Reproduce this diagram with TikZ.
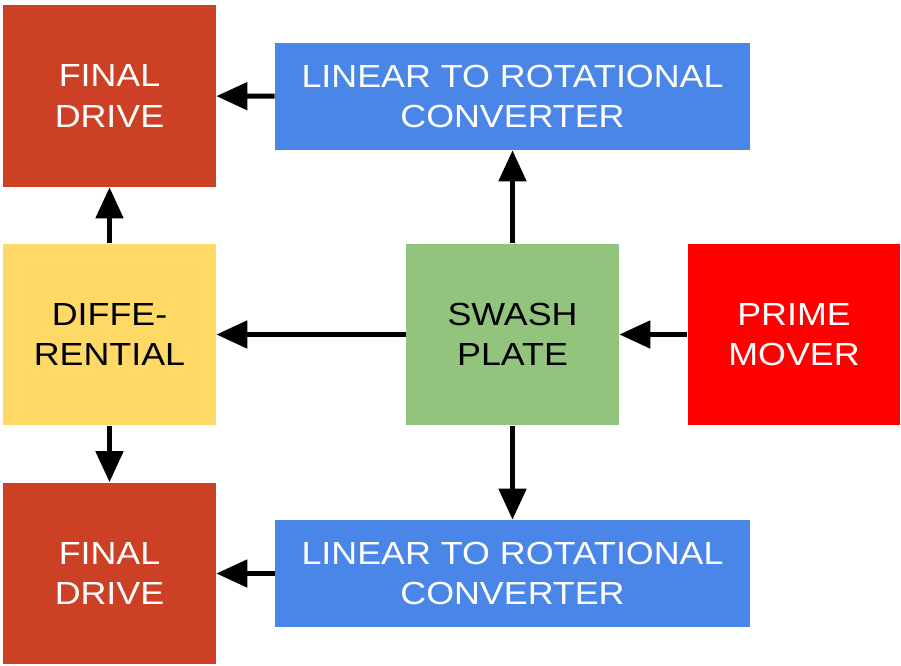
\documentclass[tikz,border=0pt]{standalone}
\usepackage{fontspec}
\setmainfont[FakeStretch=1.12]{Liberation Sans}
\usepackage{xcolor}
\usepackage{tikz}
\usetikzlibrary{arrows.meta}

\definecolor{drivered}{HTML}{CC4125}
\definecolor{convblue}{HTML}{4A86E8}
\definecolor{diffyellow}{HTML}{FFD966}
\definecolor{swashgreen}{HTML}{93C47D}
\definecolor{primered}{HTML}{FF0000}

\begin{document}
\begin{tikzpicture}%
                    [x={(0.02cm, 0cm)},
                    y={(0cm, -0.02cm)},
                    block/.style={inner sep=0pt, align=center,
                                  font=\fontsize{18.2}{22.8}\selectfont},
                    square/.style={block, minimum width=4.26cm, minimum height=3.64cm},
                    wide/.style={block, minimum width=9.5cm, minimum height=2.14cm,
                                 fill=convblue, text=white},
                    flow/.style={line width=0.1cm,
                                 -{Triangle[width=0.54cm, length=0.62cm]}}]

                %% Fixing the page
                \useasboundingbox (0,0) rectangle (901,665);
                %%
                %% Drawing the blocks
                %%
                \node[square, fill=drivered, text=white] (drivetop) at (109.5, 96) {FINAL\\DRIVE};
                \node[wide] (convtop) at (512.5, 96.5) {LINEAR TO ROTATIONAL\\CONVERTER};
                \node[square, fill=diffyellow] (diff) at (109.5, 334.5) {DIFFE-\\RENTIAL};
                \node[square, fill=swashgreen] (swash) at (512.5, 334.5) {SWASH\\PLATE};
                \node[square, fill=primered, text=white] (prime) at (794, 334.5) {PRIME\\MOVER};
                \node[square, fill=drivered, text=white] (drivebot) at (109.5, 573.5) {FINAL\\DRIVE};
                \node[wide] (convbot) at (512.5, 573.5) {LINEAR TO ROTATIONAL\\CONVERTER};
                %%
                %% Drawing the arrows
                %%
                \draw[flow] (prime) -- (swash);
                \draw[flow] (swash) -- (diff);
                \draw[flow] (swash) -- (convtop);
                \draw[flow] (swash) -- (convbot);
                \draw[flow] (convtop) -- (drivetop);
                \draw[flow] (convbot) -- (drivebot);
                \draw[flow] (diff) -- (drivetop);
                \draw[flow] (diff) -- (drivebot);
                %%
                %%
\end{tikzpicture}
\end{document}
